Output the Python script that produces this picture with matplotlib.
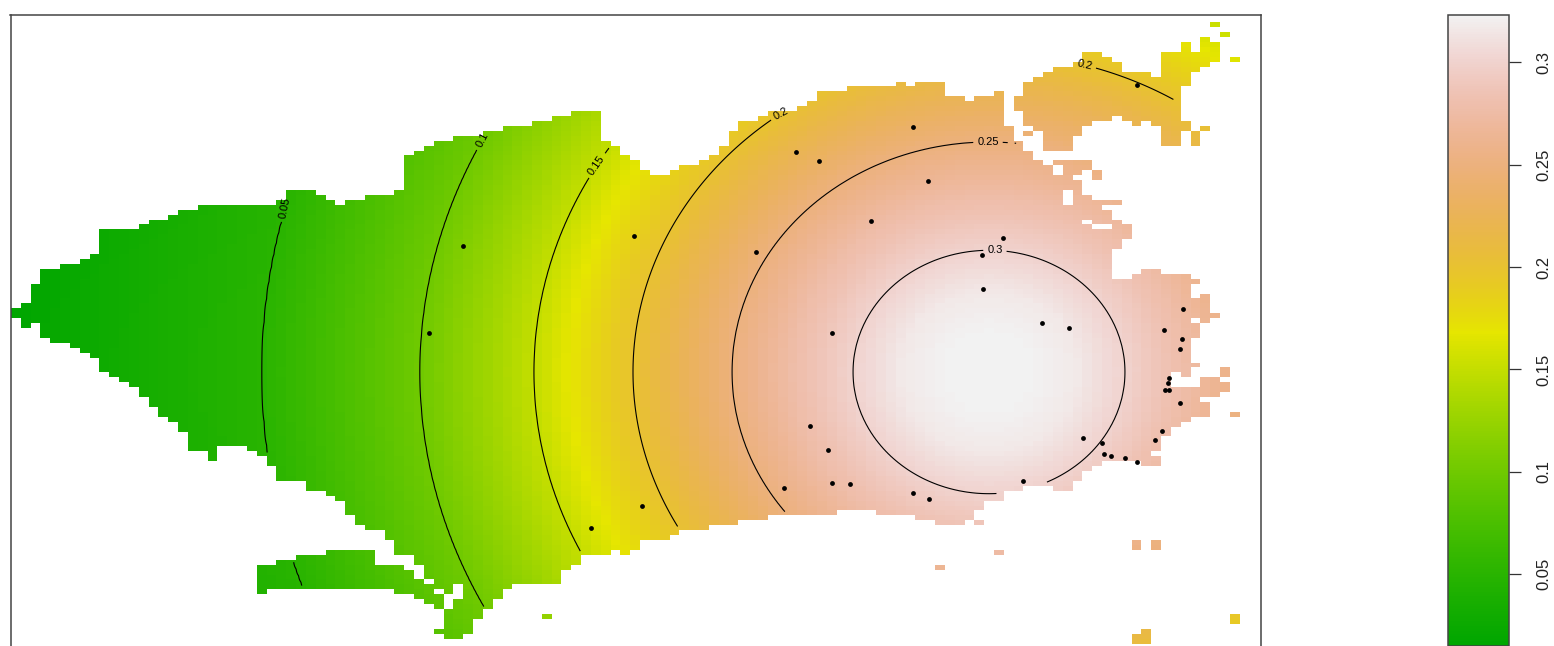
import numpy as np
import matplotlib
matplotlib.use('Agg')
import matplotlib.pyplot as plt
from matplotlib.colors import ListedColormap, hsv_to_rgb

plt.rcParams['font.family'] = ['Liberation Sans', 'DejaVu Sans']

W, H = 1554, 646

# surface: value against distance from the peak
PEAK_X, PEAK_Y = 989, 372
ASPECT = 0.895
DIST = [0, 50, 90, 136, 195, 257, 356, 455, 569, 727, 980]
VALUE = [0.3233, 0.322, 0.316, 0.30, 0.277, 0.25, 0.20, 0.15, 0.10, 0.05, 0.015]

LEVELS = [0.05, 0.1, 0.15, 0.2, 0.25, 0.3]
LABEL_AT = [(283, 207), (487, 143), (601, 168), (815, 98), (1083, 72), (988, 144), (995, 249)]
LABEL_ROT = [78, 62, 55, 28, -14, 0, 0]
BAR_TICKS = [0.05, 0.1, 0.15, 0.2, 0.25, 0.3]

# sites
SITE_X = [463, 429, 634, 591, 642, 756, 796, 819, 871, 913, 928, 1003, 982, 983, 832, 1042, 1069,
          810, 828, 784, 832, 850, 913, 929, 1023, 1137, 1183, 1164, 1182, 1180, 1169, 1168, 1165,
          1169, 1180, 1162, 1155, 1083, 1102, 1104, 1111, 1125, 1137]
SITE_Y = [246, 333, 236, 528, 506, 252, 152, 161, 221, 127, 181, 238, 255, 289, 333, 323, 328,
          426, 450, 488, 483, 484, 493, 499, 481, 85, 309, 330, 339, 349, 378, 383, 390,
          390, 403, 431, 440, 438, 443, 454, 456, 458, 462]

# outline of the main body, step start x and edge y
TOP_X = [11, 21, 31, 41, 60, 80, 90, 100, 139, 149, 168, 178, 197, 276, 286, 314, 324, 334, 344, 364,
         393, 403, 413, 422, 431, 451, 480, 500, 530, 549, 568, 597, 607, 617, 627, 637, 647, 666, 676,
         696, 706, 715, 725, 734, 754, 764, 793, 803, 813, 843, 900, 910, 920, 949, 969, 979, 998]
TOP_Y = [309, 304, 284, 269, 264, 259, 255, 229, 224, 220, 214, 210, 205, 200, 190, 195, 200, 205, 200, 195,
         190, 155, 150, 145, 140, 135, 130, 125, 120, 115, 110, 140, 145, 155, 160, 170, 175, 170, 165,
         160, 155, 145, 130, 120, 115, 110, 105, 100, 90, 85, 81, 85, 81, 95, 100, 95, 90]
BOT_X = [11, 21, 31, 41, 51, 70, 80, 90, 100, 110, 119, 129, 139, 149, 158, 168, 177, 187, 207, 217, 227,
         246, 256, 266, 276, 304, 324, 334, 344, 354, 363, 383, 393, 403, 413, 422, 431, 441, 451, 461,
         471, 481, 490, 500, 510, 559, 568, 578, 588, 608, 617, 627, 637, 647, 667, 677, 706, 735, 765,
         834, 872, 912, 932, 961, 971, 981, 990, 1000, 1020, 1049, 1069, 1079, 1089, 1099, 1137]
BOT_Y = [319, 329, 324, 339, 344, 349, 354, 359, 374, 378, 383, 389, 399, 409, 419, 423, 433, 453, 463, 448, 444,
         449, 458, 468, 483, 493, 498, 503, 513, 523, 528, 542, 553, 557, 563, 577, 587, 593, 583, 632,
         617, 608, 597, 587, 583, 568, 563, 557, 553, 548, 553, 548, 542, 538, 533, 528, 523, 518, 513,
         508, 513, 518, 523, 518, 508, 503, 499, 493, 487, 493, 483, 473, 468, 463, 468]

# east side of the body, one row band at a time: y top, y bottom, x spans
EAST_BANDS = [
    (125, 140, [(1008, 1018)]), (140, 150, [(1008, 1027)]), (150, 159, [(1008, 1037)]),
    (159, 165, [(1008, 1047), (1057, 1096)]), (165, 169, [(1008, 1057), (1067, 1096)]),
    (169, 175, [(1008, 1057), (1067, 1086), (1096, 1106)]), (175, 180, [(1008, 1077), (1096, 1106)]),
    (180, 190, [(1008, 1086)]), (190, 195, [(1008, 1067), (1077, 1086)]),
    (195, 200, [(1008, 1067), (1077, 1096)]), (200, 205, [(1008, 1067), (1077, 1125)]),
    (205, 210, [(1008, 1106)]), (210, 220, [(1008, 1116)]), (220, 225, [(1008, 1086), (1096, 1125)]),
    (225, 230, [(1008, 1096), (1116, 1135)]), (230, 240, [(1008, 1135)]), (240, 250, [(1008, 1125)]),
    (250, 269, [(1008, 1116)]), (269, 274, [(1008, 1116), (1144, 1164)]),
    (274, 278, [(1008, 1116), (1134, 1193)]), (278, 284, [(1008, 1203)]), (284, 294, [(1008, 1193)]),
    (294, 299, [(1008, 1193), (1203, 1213)]), (299, 314, [(1008, 1213)]), (314, 319, [(1008, 1223)]),
    (319, 324, [(1008, 1193), (1203, 1213)]), (324, 338, [(1008, 1203)]), (338, 364, [(1008, 1193)]),
    (364, 368, [(1008, 1203)]), (368, 373, [(1008, 1193), (1223, 1233)]),
    (373, 378, [(1008, 1174), (1183, 1193), (1223, 1233)]), (378, 384, [(1008, 1174), (1203, 1223)]),
    (384, 389, [(1008, 1174), (1203, 1233)]), (389, 394, [(1008, 1233)]), (394, 399, [(1008, 1223)]),
    (399, 404, [(1008, 1203)]), (404, 413, [(1008, 1213)]), (413, 419, [(1008, 1213), (1233, 1243)]),
    (419, 423, [(1008, 1193)]), (423, 428, [(1008, 1183)]), (428, 438, [(1008, 1174)]),
    (438, 453, [(1008, 1164)]), (453, 458, [(1008, 1154)]), (458, 510, [(1008, 1164)]),
]

# separate land: x0, x1, y0, y1
NE_ISLAND = [
    (1213, 1223, 21, 26), (1223, 1233, 31, 36), (1203, 1213, 36, 41), (1184, 1194, 41, 50),
    (1203, 1223, 41, 50), (1086, 1106, 50, 56), (1164, 1223, 50, 56), (1086, 1116, 56, 60),
    (1164, 1223, 56, 60), (1233, 1243, 56, 60), (1077, 1125, 60, 65), (1164, 1213, 60, 65),
    (1057, 1125, 65, 70), (1164, 1203, 65, 70), (1047, 1154, 70, 75), (1164, 1194, 70, 75),
    (1037, 1194, 75, 80), (1028, 1194, 80, 85), (1028, 1184, 85, 95), (1018, 1184, 95, 110),
    (1028, 1184, 110, 115), (1028, 1116, 115, 120), (1125, 1184, 115, 120), (1028, 1096, 120, 125),
    (1135, 1144, 120, 125), (1154, 1194, 120, 125), (1037, 1086, 125, 130), (1164, 1194, 125, 130),
    (1203, 1213, 125, 130), (1028, 1037, 130, 135), (1047, 1086, 130, 135), (1164, 1184, 130, 145),
    (1194, 1203, 130, 145), (1047, 1077, 135, 149),
]
SW_ISLAND = [
    (256, 266, 563, 592), (266, 276, 563, 587), (276, 295, 558, 587), (295, 324, 553, 587),
    (324, 373, 548, 587), (373, 383, 563, 587), (383, 393, 567, 587), (393, 403, 567, 592),
    (403, 413, 572, 592), (413, 422, 577, 597), (422, 431, 583, 602), (431, 441, 593, 608),
    (441, 451, 608, 637), (431, 441, 627, 632), (451, 461, 597, 637),
]
SPECKS = [
    (539, 549, 612, 617), (971, 981, 518, 523), (990, 1000, 548, 553), (932, 942, 563, 568),
    (1127, 1137, 542, 548), (1147, 1157, 542, 548), (1233, 1243, 612, 622),
    (1134, 1154, 632, 642), (1144, 1154, 628, 632),
]


def terrain_cmap(n=255):
    k = n // 2
    h = np.r_[np.linspace(4 / 12, 2 / 12, k), np.linspace(2 / 12, 0, n - k + 1)[1:]]
    s = np.r_[np.linspace(1, 1, k), np.linspace(1, 0, n - k + 1)[1:]]
    v = np.r_[np.linspace(0.65, 0.9, k), np.linspace(0.9, 0.95, n - k + 1)[1:]]
    return ListedColormap(hsv_to_rgb(np.c_[h, s, v]))


def step(xs, starts, vals):
    i = np.clip(np.searchsorted(starts, xs, side='right') - 1, 0, len(vals) - 1)
    return np.array(vals)[i]


def surface(px, py):
    return np.interp(np.hypot(px - PEAK_X, (py - PEAK_Y) / ASPECT), DIST, VALUE)


# raster cells
x_edge = 11 + 9.83 * np.arange(129)
y_edge = 12.5 + 4.93 * np.arange(133)
xc = (x_edge[:-1] + x_edge[1:]) / 2
yc = (y_edge[:-1] + y_edge[1:]) / 2
xx, yy = np.meshgrid(xc, yc)
z = surface(xx, yy)

top = step(xc, TOP_X, TOP_Y)
bot = step(xc, BOT_X, BOT_Y)
land = (yy >= top[None, :]) & (yy < bot[None, :]) & (xx < 1008)
for y0, y1, spans in EAST_BANDS:
    for x0, x1 in spans:
        land |= (yy >= y0) & (yy < y1) & (xx >= x0) & (xx < x1) & (yy < bot[None, :])
for x0, x1, y0, y1 in NE_ISLAND + SW_ISLAND + SPECKS:
    land |= (yy >= y0) & (yy < y1) & (xx >= x0) & (xx < x1)
zm = np.ma.masked_where(~land, z)

# finer copy only for the contour lines, the cells are too coarse for them
# a fine point counts only if the 4 cell centres around it are all land
xf = np.linspace(xc[0], xc[-1], (len(xc) - 1) * 4 + 1)
yf = np.linspace(yc[0], yc[-1], (len(yc) - 1) * 4 + 1)
ix = np.minimum(((xf - xc[0]) / 9.83).astype(int), len(xc) - 2)
iy = np.minimum(((yf - yc[0]) / 4.93).astype(int), len(yc) - 2)
ok = land[:-1, :-1] & land[1:, :-1] & land[:-1, 1:] & land[1:, 1:]
zf = np.ma.masked_where(~ok[np.ix_(iy, ix)], surface(*np.meshgrid(xf, yf)))

cmap = terrain_cmap()
fig = plt.figure(figsize=(W / 100, H / 100), dpi=100)

ax_bottom = 652
ax = fig.add_axes([10.5 / W, 1 - ax_bottom / H, (1261 - 10.5) / W, (ax_bottom - 14.5) / H])
mesh = ax.pcolormesh(x_edge, y_edge, zm, cmap=cmap, vmin=0.015, vmax=0.3233, linewidth=0, rasterized=True)
cs = ax.contour(xf, yf, zf, levels=LEVELS, colors='black', linewidths=0.8)
ax.scatter(SITE_X, SITE_Y, s=12, c='black', linewidths=0, zorder=5)
ax.set_xlim(10.5, 1261)
ax.set_ylim(ax_bottom, 14.5)
labels = ax.clabel(cs, manual=LABEL_AT, fmt='%g', fontsize=8, inline_spacing=4)
# y axis runs downwards, auto rotation comes out wrong so set it by hand
for t in labels:
    pos = t.get_position()
    i = int(np.argmin([np.hypot(pos[0] - a, pos[1] - b) for a, b in LABEL_AT]))
    t.set_transform_rotates_text(False)
    t.set_rotation(LABEL_ROT[i])
ax.set_xticks([])
ax.set_yticks([])
for sp in ax.spines.values():
    sp.set_color('#444444')
    sp.set_linewidth(1.1)

cax = fig.add_axes([1448 / W, 0, 61 / W, (646.3 - 14.8) / H])
cb = fig.colorbar(mesh, cax=cax)
cb.set_ticks(BAR_TICKS)
cb.set_ticklabels(['%g' % t for t in BAR_TICKS])
cb.ax.tick_params(length=8.5, width=0.9, color='#333333', labelsize=12, pad=11, labelcolor='#222222')
for t in cb.ax.get_yticklabels():
    t.set_rotation(90)
    t.set_va('center')
cb.outline.set_edgecolor('#444444')
cb.outline.set_linewidth(1.1)

fig.savefig('out.png', dpi=100)
